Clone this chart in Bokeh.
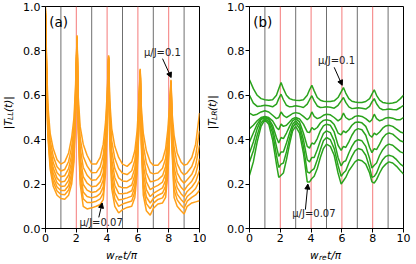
import numpy as np
from bokeh.plotting import figure
from bokeh.layouts import row, column
from bokeh.models import Range1d, FixedTicker, Label, Arrow, NormalHead, Span
from bokeh.embed import file_html
from bokeh.resources import INLINE

# ---------------- data ----------------
# panel (a): |T_LL(t)|, x = w_re t / pi
xa = [0, 0.05, 0.15, 0.3, 0.5, 0.75, 1.0, 1.25, 1.5, 1.7, 1.85, 1.95, 2.05, 2.12, 2.25, 2.45, 2.7, 3.0, 3.3, 3.55,
      3.75, 3.9, 4.0, 4.1, 4.17, 4.3, 4.5, 4.75, 5.0, 5.3, 5.6, 5.8, 5.95, 6.05, 6.15, 6.22, 6.35, 6.55, 6.8, 7.0,
      7.3, 7.6, 7.8, 7.95, 8.05, 8.15, 8.22, 8.35, 8.55, 8.8, 9.0, 9.2, 9.5, 9.75, 10.0]
TLL_c0 = [1.0, 0.82, 0.56, 0.43, 0.36, 0.31, 0.29, 0.30, 0.34, 0.41, 0.5, 0.64, 0.87, 0.6, 0.46, 0.38, 0.33, 0.29, 0.29, 0.32,
          0.38, 0.48, 0.6, 0.78, 0.58, 0.45, 0.37, 0.32, 0.29, 0.28, 0.3, 0.35, 0.44, 0.56, 0.72, 0.55, 0.43, 0.35, 0.3, 0.285,
          0.285, 0.31, 0.36, 0.45, 0.55, 0.67, 0.52, 0.42, 0.34, 0.3, 0.285, 0.29, 0.32, 0.38, 0.52]
TLL_c1 = [0.99, 0.80, 0.532, 0.398, 0.326, 0.278, 0.259, 0.266, 0.302, 0.368, 0.46, 0.612, 0.866, 0.57, 0.408, 0.324, 0.282, 0.251, 0.252, 0.278,
          0.33, 0.434, 0.57, 0.776, 0.544, 0.396, 0.316, 0.27, 0.249, 0.243, 0.26, 0.308, 0.402, 0.532, 0.716, 0.516, 0.374, 0.296, 0.252, 0.246,
          0.25, 0.271, 0.316, 0.41, 0.52, 0.666, 0.486, 0.364, 0.292, 0.256, 0.241, 0.252, 0.279, 0.328, 0.441]
TLL_c2 = [0.98, 0.783, 0.508, 0.371, 0.297, 0.251, 0.233, 0.238, 0.27, 0.332, 0.426, 0.588, 0.863, 0.545, 0.364, 0.276, 0.24, 0.217, 0.22, 0.242,
          0.288, 0.395, 0.545, 0.773, 0.513, 0.35, 0.27, 0.228, 0.214, 0.212, 0.226, 0.272, 0.37, 0.508, 0.713, 0.487, 0.326, 0.25, 0.211, 0.213,
          0.22, 0.238, 0.279, 0.376, 0.495, 0.663, 0.457, 0.316, 0.251, 0.219, 0.204, 0.22, 0.244, 0.284, 0.374]
TLL_c3 = [0.97, 0.768, 0.487, 0.347, 0.272, 0.227, 0.209, 0.213, 0.241, 0.301, 0.396, 0.567, 0.86, 0.522, 0.325, 0.234, 0.204, 0.188, 0.191, 0.21,
          0.25, 0.36, 0.522, 0.77, 0.486, 0.31, 0.23, 0.19, 0.183, 0.184, 0.196, 0.241, 0.341, 0.487, 0.71, 0.462, 0.284, 0.21, 0.175, 0.184,
          0.194, 0.209, 0.246, 0.346, 0.472, 0.66, 0.432, 0.274, 0.215, 0.186, 0.171, 0.191, 0.213, 0.245, 0.315]
TLL_c4 = [0.97, 0.755, 0.469, 0.326, 0.25, 0.206, 0.189, 0.191, 0.217, 0.274, 0.37, 0.549, 0.857, 0.503, 0.291, 0.198, 0.173, 0.162, 0.167, 0.182,
          0.218, 0.331, 0.503, 0.767, 0.463, 0.275, 0.195, 0.158, 0.157, 0.16, 0.17, 0.214, 0.317, 0.469, 0.707, 0.44, 0.248, 0.175, 0.144, 0.158,
          0.171, 0.183, 0.217, 0.32, 0.453, 0.657, 0.41, 0.238, 0.184, 0.157, 0.142, 0.167, 0.187, 0.211, 0.263]
TLL_c5 = [0.96, 0.743, 0.452, 0.307, 0.229, 0.187, 0.171, 0.171, 0.194, 0.248, 0.346, 0.532, 0.855, 0.485, 0.26, 0.164, 0.144, 0.138, 0.144, 0.157,
          0.188, 0.303, 0.485, 0.765, 0.441, 0.242, 0.162, 0.128, 0.132, 0.138, 0.146, 0.188, 0.294, 0.452, 0.705, 0.419, 0.214, 0.142, 0.115, 0.135,
          0.15, 0.16, 0.191, 0.296, 0.435, 0.655, 0.389, 0.204, 0.155, 0.131, 0.116, 0.144, 0.162, 0.18, 0.216]
TLL_c6 = [0.96, 0.732, 0.437, 0.289, 0.21, 0.169, 0.154, 0.152, 0.173, 0.225, 0.324, 0.517, 0.852, 0.468, 0.231, 0.134, 0.117, 0.117, 0.123, 0.133,
          0.16, 0.278, 0.468, 0.762, 0.422, 0.212, 0.132, 0.1, 0.11, 0.117, 0.124, 0.165, 0.273, 0.437, 0.702, 0.4, 0.184, 0.112, 0.089, 0.113,
          0.131, 0.138, 0.166, 0.274, 0.418, 0.652, 0.37, 0.174, 0.129, 0.106, 0.091, 0.123, 0.14, 0.151, 0.172]
TLL_c7 = [0.95, 0.72, 0.42, 0.27, 0.19, 0.15, 0.135, 0.132, 0.15, 0.2, 0.3, 0.5, 0.85, 0.45, 0.2, 0.1, 0.088, 0.093, 0.1, 0.108,
          0.13, 0.25, 0.45, 0.76, 0.4, 0.18, 0.1, 0.07, 0.085, 0.095, 0.1, 0.14, 0.25, 0.42, 0.7, 0.38, 0.15, 0.08, 0.06, 0.09,
          0.11, 0.115, 0.14, 0.25, 0.4, 0.65, 0.35, 0.14, 0.1, 0.08, 0.065, 0.1, 0.115, 0.12, 0.125]

# panel (b): |T_LR(t)|
xb = [0, 0.25, 0.5, 0.75, 1.0, 1.25, 1.5, 1.75, 1.9, 2.05, 2.2, 2.4, 2.6, 2.8, 3.0, 3.25, 3.5, 3.75, 3.9, 4.05,
      4.2, 4.4, 4.6, 4.8, 5.0, 5.25, 5.5, 5.75, 5.95, 6.1, 6.25, 6.45, 6.65, 6.85, 7.05, 7.3, 7.55, 7.8, 7.95, 8.1,
      8.25, 8.45, 8.65, 8.85, 9.05, 9.3, 9.55, 9.8, 10.0]
TLR_c0 = [0.67, 0.63, 0.6, 0.585, 0.58, 0.578, 0.58, 0.6, 0.63, 0.658, 0.63, 0.6, 0.585, 0.58, 0.578, 0.577, 0.58, 0.6, 0.625, 0.645,
          0.62, 0.59, 0.578, 0.573, 0.572, 0.572, 0.575, 0.59, 0.615, 0.635, 0.61, 0.585, 0.573, 0.57, 0.568, 0.568, 0.572, 0.585, 0.605, 0.625,
          0.6, 0.578, 0.568, 0.565, 0.563, 0.565, 0.57, 0.585, 0.6]
TLR_c1 = [0.6, 0.565, 0.55, 0.552, 0.555, 0.553, 0.548, 0.56, 0.585, 0.605, 0.58, 0.555, 0.548, 0.55, 0.553, 0.55, 0.545, 0.56, 0.58, 0.598,
          0.575, 0.552, 0.545, 0.546, 0.548, 0.546, 0.542, 0.555, 0.575, 0.59, 0.568, 0.548, 0.54, 0.542, 0.544, 0.542, 0.538, 0.55, 0.57, 0.585,
          0.562, 0.542, 0.535, 0.536, 0.538, 0.536, 0.535, 0.545, 0.555]
TLR_c2 = [0.52, 0.51, 0.515, 0.525, 0.53, 0.525, 0.51, 0.495, 0.5, 0.525, 0.51, 0.5, 0.508, 0.518, 0.522, 0.518, 0.505, 0.49, 0.5, 0.525,
          0.505, 0.495, 0.5, 0.51, 0.515, 0.512, 0.5, 0.485, 0.495, 0.52, 0.5, 0.49, 0.495, 0.505, 0.508, 0.505, 0.495, 0.48, 0.49, 0.515,
          0.495, 0.485, 0.49, 0.498, 0.5, 0.497, 0.49, 0.49, 0.5]
TLR_c3 = [0.45, 0.465, 0.485, 0.5, 0.505, 0.5, 0.485, 0.455, 0.445, 0.47, 0.46, 0.465, 0.48, 0.495, 0.5, 0.493, 0.47, 0.435, 0.432, 0.455,
          0.445, 0.455, 0.475, 0.487, 0.49, 0.486, 0.468, 0.43, 0.422, 0.44, 0.432, 0.445, 0.465, 0.477, 0.48, 0.476, 0.46, 0.42, 0.412, 0.43,
          0.422, 0.435, 0.452, 0.462, 0.465, 0.46, 0.448, 0.435, 0.43]
TLR_c4 = [0.39, 0.43, 0.47, 0.495, 0.502, 0.495, 0.465, 0.41, 0.385, 0.41, 0.405, 0.43, 0.46, 0.485, 0.495, 0.48, 0.43, 0.37, 0.362, 0.385,
          0.38, 0.405, 0.44, 0.462, 0.47, 0.465, 0.435, 0.375, 0.352, 0.37, 0.365, 0.39, 0.42, 0.442, 0.45, 0.445, 0.42, 0.365, 0.342, 0.36,
          0.355, 0.38, 0.408, 0.424, 0.43, 0.425, 0.41, 0.395, 0.39]
TLR_c5 = [0.34, 0.39, 0.45, 0.49, 0.5, 0.49, 0.45, 0.37, 0.325, 0.345, 0.345, 0.385, 0.43, 0.47, 0.485, 0.465, 0.4, 0.31, 0.3, 0.32,
          0.32, 0.355, 0.395, 0.428, 0.44, 0.432, 0.395, 0.32, 0.282, 0.3, 0.305, 0.34, 0.37, 0.392, 0.4, 0.395, 0.37, 0.315, 0.272, 0.285,
          0.295, 0.33, 0.355, 0.372, 0.38, 0.375, 0.36, 0.345, 0.34]
TLR_c6 = [0.3, 0.35, 0.42, 0.475, 0.495, 0.48, 0.43, 0.33, 0.275, 0.29, 0.295, 0.345, 0.405, 0.455, 0.475, 0.45, 0.37, 0.255, 0.25, 0.262,
          0.27, 0.31, 0.355, 0.395, 0.41, 0.4, 0.36, 0.285, 0.235, 0.25, 0.26, 0.295, 0.325, 0.35, 0.36, 0.355, 0.33, 0.275, 0.23, 0.235,
          0.25, 0.285, 0.31, 0.325, 0.33, 0.325, 0.31, 0.29, 0.28]
TLR_c7 = [0.24, 0.3, 0.39, 0.46, 0.49, 0.47, 0.4, 0.29, 0.23, 0.24, 0.25, 0.31, 0.38, 0.44, 0.46, 0.43, 0.34, 0.21, 0.21, 0.225,
          0.235, 0.27, 0.32, 0.36, 0.38, 0.37, 0.33, 0.25, 0.2, 0.215, 0.23, 0.26, 0.28, 0.3, 0.31, 0.305, 0.29, 0.25, 0.21, 0.205,
          0.22, 0.25, 0.275, 0.29, 0.3, 0.295, 0.28, 0.26, 0.245]

gray_lines_x = [1, 3, 5, 7, 9]
red_lines_x = [2, 4, 6, 8]
x_ticks = [0, 2, 4, 6, 8, 10]
x_tick_labels = ["0", "2", "4", "6", "8", "10"]
y_ticks = [0.0, 0.2, 0.4, 0.6, 0.8, 1.0]
y_tick_labels = ["0.0", "0.2", "0.4", "0.6", "0.8", "1.0"]

FONT = "DejaVu Sans"
ROW_H = 246


def make_panel(xs, curves, color, panel_label, ann_top, ann_bot, width, bl, br):
    p = figure(width=width, height=ROW_H, x_range=Range1d(0, 10), y_range=Range1d(0, 1),
               output_backend="svg", toolbar_location=None,
               min_border_left=bl, min_border_right=br, min_border_top=6, min_border_bottom=18)
    p.xgrid.visible = False
    p.ygrid.visible = False
    p.outline_line_color = "black"
    p.outline_line_width = 1
    p.background_fill_color = "white"
    p.border_fill_color = "white"
    for ax, ticks, labels in ((p.xaxis[0], x_ticks, x_tick_labels), (p.yaxis[0], y_ticks, y_tick_labels)):
        ax.ticker = FixedTicker(ticks=ticks)
        ax.major_label_overrides = {t: l for t, l in zip(ticks, labels)}
        ax.minor_tick_line_color = None
        ax.major_tick_out = 4
        ax.major_tick_in = 0
        ax.major_label_standoff = 1
        ax.major_label_text_font = FONT
        ax.major_label_text_font_size = "11px"
        ax.major_label_text_color = "black"
        ax.axis_line_color = "black"
        ax.major_tick_line_color = "black"

    for gx in gray_lines_x:
        p.add_layout(Span(location=gx, dimension="height", line_color="#6f6f6f", line_width=1, level="underlay"))
    for rx in red_lines_x:
        p.add_layout(Span(location=rx, dimension="height", line_color="#f47a7a", line_width=1, level="underlay"))

    for ys in curves:
        p.line(xs, ys, line_color=color, line_width=1.5)

    p.add_layout(Label(x=0.24, y=0.93, text=panel_label, text_font=FONT, text_font_size="13.5px",
                       text_align="left", text_baseline="middle", text_color="black"))

    for (tx, ty, txt, x0, y0, x1, y1) in (ann_top, ann_bot):
        p.add_layout(Label(x=tx, y=ty, text=txt, text_font=FONT, text_font_size="10px",
                           text_align="center", text_baseline="middle", text_color="#222222"))
        p.add_layout(Arrow(end=NormalHead(size=5, fill_color="black", line_color="black"),
                           x_start=x0, y_start=y0, x_end=x1, y_end=y1,
                           line_color="black", line_width=1))
    return p


def blank(width, height):
    f = figure(width=width, height=height, x_range=Range1d(0, width), y_range=Range1d(0, height),
               output_backend="svg", toolbar_location=None, x_axis_type=None, y_axis_type=None,
               min_border=0)
    f.outline_line_color = None
    f.background_fill_color = "white"
    f.border_fill_color = "white"
    return f


def ylabel_fig(width, sub, xc, y0, sub_w):
    f = blank(width, ROW_H)
    common = dict(angle=np.pi / 2, text_font=FONT, text_font_style="italic",
                  text_align="left", text_baseline="middle", text_color="black")
    f.add_layout(Label(x=xc, y=y0, text="|T", text_font_size="10.5px", **common))
    f.add_layout(Label(x=xc + 2.5, y=y0 + 10.3, text=sub, text_font_size="7.5px", **common))
    f.add_layout(Label(x=xc, y=y0 + 10.3 + sub_w, text="(t)|", text_font_size="10.5px", **common))
    return f


pa = make_panel(xa, [TLL_c0, TLL_c1, TLL_c2, TLL_c3, TLL_c4, TLL_c5, TLL_c6, TLL_c7], "#ffa01a", "(a)",
                (7.59, 0.792, "μ/J=0.1", 7.6, 0.765, 8.16, 0.68),
                (3.61, 0.028, "μ/J=0.07", 3.46, 0.05, 3.68, 0.115), 186, 22, 7)
pb = make_panel(xb, [TLR_c0, TLR_c1, TLR_c2, TLR_c3, TLR_c4, TLR_c5, TLR_c6, TLR_c7], "#2aa31c", "(b)",
                (5.65, 0.756, "μ/J=0.1", 5.5, 0.726, 6.02, 0.645),
                (4.18, 0.066, "μ/J=0.07", 3.63, 0.085, 3.79, 0.2), 192, 22, 13)

ya = ylabel_fig(20, "LL", 7.5, 110, 8.8)
yb = ylabel_fig(18, "LR", 5.5, 110, 9.8)

# x label strip, w_re t/pi under each panel
xl = blank(416, 18)
cx = dict(text_font=FONT, text_font_style="italic", text_align="left",
          text_baseline="alphabetic", text_color="black")
for start in (105.5, 309.6):
    xl.add_layout(Label(x=start, y=9.5, text="w", text_font_size="10.5px", **cx))
    xl.add_layout(Label(x=start + 8.9, y=7.5, text="re", text_font_size="7.5px", **cx))
    xl.add_layout(Label(x=start + 17.0, y=9.5, text="t/π", text_font_size="10.5px", **cx))

layout = column(row(ya, pa, yb, pb), xl)
open("out.html", "w").write(file_html(layout, INLINE))
